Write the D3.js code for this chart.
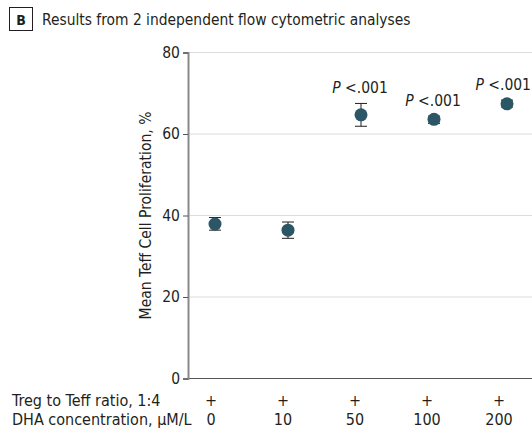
<!DOCTYPE html>
<html>
<head>
<meta charset="utf-8">
<script src="https://cdn.jsdelivr.net/npm/d3@7"></script>
<style>
  body { margin: 0; background: #fff; }
  svg text { font-family: "Liberation Sans Narrow", "DejaVu Sans Condensed", sans-serif; fill: #231f20; }
</style>
</head>
<body>
<div id="chart"></div>
<script>
// data
var doses = ["0", "10", "50", "100", "200"];
var meanValues = [37.9, 36.4, 64.7, 63.6, 67.4];
var errLow = [36.4, 34.4, 61.9, 62.6, 66.6];
var errHigh = [39.5, 38.4, 67.5, 64.4, 68.3];
var pLabels = ["", "", "<.001", "<.001", "<.001"];
var yTicks = [0, 20, 40, 60, 80];

var width = 532;
var height = 435;

var svg = d3.select("#chart").append("svg")
    .attr("width", width)
    .attr("height", height);

// x scale for the points
var xScale = d3.scalePoint()
    .domain(doses)
    .range([215, 507]);

// slightly different spacing for the row labels under the plot
var labelScale = d3.scalePoint()
    .domain(doses)
    .range([211, 499]);

var yScale = d3.scaleLinear()
    .domain([0, 80])
    .range([378.5, 52.5]);

// panel letter box and title
svg.append("rect")
    .attr("x", 9.5).attr("y", 7.5)
    .attr("width", 23).attr("height", 23)
    .attr("fill", "none")
    .attr("stroke", "#231f20")
    .attr("stroke-width", 1);

svg.append("text")
    .attr("x", 21).attr("y", 25)
    .attr("text-anchor", "middle")
    .style("font-size", "14px")
    .style("font-weight", "bold")
    .text("B");

svg.append("text")
    .attr("x", 42).attr("y", 25)
    .style("font-size", "15.4px")
    .text("Results from 2 independent flow cytometric analyses");

// gridlines
svg.append("g")
    .selectAll("line")
    .data(yTicks.slice(1))
    .enter().append("line")
    .attr("x1", 188).attr("x2", width)
    .attr("y1", function (d) { return yScale(d); })
    .attr("y2", function (d) { return yScale(d); })
    .attr("stroke", "#dcdcdc")
    .attr("stroke-width", 1);

// x baseline
svg.append("line")
    .attr("x1", 188).attr("x2", width)
    .attr("y1", yScale(0)).attr("y2", yScale(0))
    .attr("stroke", "#555")
    .attr("stroke-width", 1.2);

// y axis
var yAxis = svg.append("g")
    .attr("transform", "translate(188,0)")
    .call(d3.axisLeft(yScale).tickValues(yTicks).tickSize(5).tickPadding(3));

yAxis.select(".domain").attr("stroke", "#8a8a8a").attr("stroke-width", 2);
yAxis.selectAll(".tick line").attr("stroke", "#555");
yAxis.selectAll(".tick text")
    .style("font-size", "15.5px")
    .attr("fill", "#231f20");

svg.append("text")
    .attr("transform", "translate(151," + yScale(40) + ") rotate(-90)")
    .attr("text-anchor", "middle")
    .style("font-size", "15.5px")
    .text("Mean Teff Cell Proliferation, %");

// error bars
var bars = svg.append("g").selectAll("g")
    .data(doses)
    .enter().append("g");

bars.append("line")
    .attr("x1", function (d) { return xScale(d); })
    .attr("x2", function (d) { return xScale(d); })
    .attr("y1", function (d, i) { return yScale(errLow[i]); })
    .attr("y2", function (d, i) { return yScale(errHigh[i]); })
    .attr("stroke", "#231f20");

bars.append("line")
    .attr("x1", function (d) { return xScale(d) - 6; })
    .attr("x2", function (d) { return xScale(d) + 6; })
    .attr("y1", function (d, i) { return yScale(errHigh[i]); })
    .attr("y2", function (d, i) { return yScale(errHigh[i]); })
    .attr("stroke", "#231f20");

bars.append("line")
    .attr("x1", function (d) { return xScale(d) - 6; })
    .attr("x2", function (d) { return xScale(d) + 6; })
    .attr("y1", function (d, i) { return yScale(errLow[i]); })
    .attr("y2", function (d, i) { return yScale(errLow[i]); })
    .attr("stroke", "#231f20");

// points
svg.append("g").selectAll("circle")
    .data(doses)
    .enter().append("circle")
    .attr("cx", function (d) { return xScale(d); })
    .attr("cy", function (d, i) { return yScale(meanValues[i]); })
    .attr("r", 6.5)
    .attr("fill", "#2b5666");

// significance labels
var pText = svg.append("g").selectAll("text")
    .data(doses.filter(function (d, i) { return pLabels[i] !== ""; }))
    .enter().append("text")
    .attr("x", function (d) { return xScale(d) - 1; })
    .attr("y", function (d) {
        var i = doses.indexOf(d);
        return yScale(errHigh[i]) - 10;
    })
    .attr("text-anchor", "middle")
    .style("font-size", "15.5px");

pText.append("tspan").style("font-style", "italic").text("P");
pText.append("tspan").text(function (d) { return " " + pLabels[doses.indexOf(d)]; });

// keep the last label inside the right edge
pText.each(function () {
    var w = this.getComputedTextLength();
    var x = +d3.select(this).attr("x");
    if (x + w / 2 > width - 1) {
        d3.select(this).attr("x", width - 1 - w / 2);
    }
});

// row labels under the plot
svg.append("text")
    .attr("x", 12).attr("y", 406)
    .style("font-size", "16px")
    .text("Treg to Teff ratio, 1:4");

svg.append("text")
    .attr("x", 12).attr("y", 425)
    .style("font-size", "16px")
    .text("DHA concentration, \u00b5M/L");

svg.append("g").selectAll("text")
    .data(doses)
    .enter().append("text")
    .attr("x", function (d) { return labelScale(d); })
    .attr("y", 406)
    .attr("text-anchor", "middle")
    .style("font-size", "16px")
    .text("+");

svg.append("g").selectAll("text")
    .data(doses)
    .enter().append("text")
    .attr("x", function (d) { return labelScale(d); })
    .attr("y", 425)
    .attr("text-anchor", "middle")
    .style("font-size", "16px")
    .text(function (d) { return d; });
</script>
</body>
</html>
